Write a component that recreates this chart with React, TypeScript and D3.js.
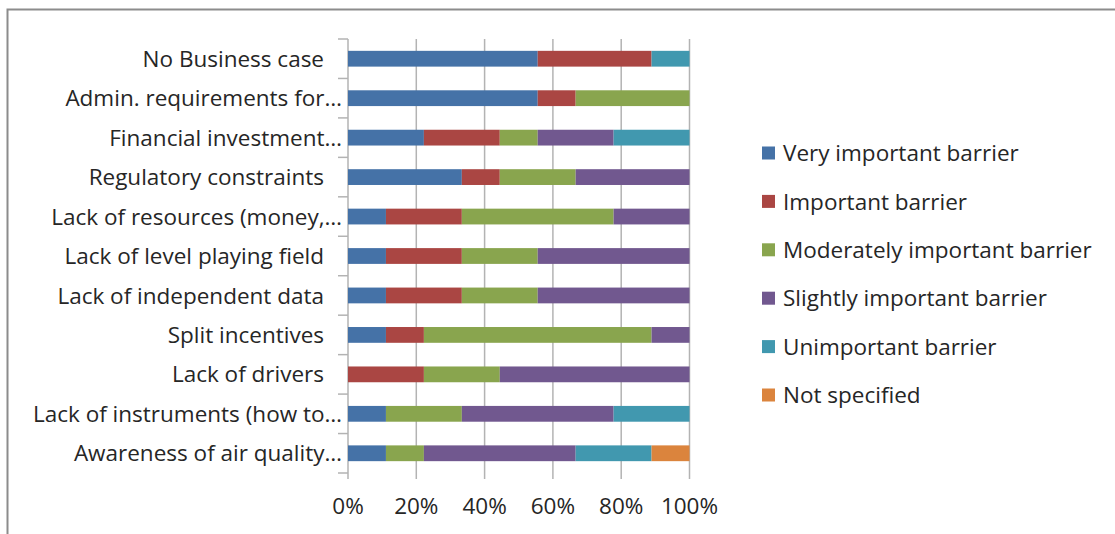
import React from "react";
import * as d3 from "d3";

// Survey categories, top to bottom
const categories = [
  "No Business case",
  "Admin. requirements for…",
  "Financial investment…",
  "Regulatory constraints",
  "Lack of resources (money,…",
  "Lack of level playing field",
  "Lack of independent data",
  "Split incentives",
  "Lack of drivers",
  "Lack of instruments (how to…",
  "Awareness of air quality…",
];

const seriesNames = [
  "Very important barrier",
  "Important barrier",
  "Moderately important barrier",
  "Slightly important barrier",
  "Unimportant barrier",
  "Not specified",
];

// Number of responses per category (9 respondents each)
const veryImportant = [5, 5, 2, 3, 1, 1, 1, 1, 0, 1, 1];
const important = [3, 1, 2, 1, 2, 2, 2, 1, 2, 0, 0];
const moderatelyImportant = [0, 3, 1, 2, 4, 2, 2, 6, 2, 2, 1];
const slightlyImportant = [0, 0, 2, 3, 2, 4, 4, 1, 5, 4, 4];
const unimportant = [1, 0, 2, 0, 0, 0, 0, 0, 0, 2, 2];
const notSpecified = [0, 0, 0, 0, 0, 0, 0, 0, 0, 0, 1];

const xTicks = [0, 0.2, 0.4, 0.6, 0.8, 1];

const colors = ["#4572A7", "#AA4643", "#89A54E", "#71588F", "#4198AF", "#DB843D"];

const FONT = "'Open Sans', Lato, sans-serif";
const TEXT = "#262626";

export default function App() {
  const W = 1115;
  const H = 534;
  const plot = { left: 348, right: 689.5, top: 39, bottom: 473 };

  const seriesValues = [
    veryImportant,
    important,
    moderatelyImportant,
    slightlyImportant,
    unimportant,
    notSpecified,
  ];

  const rows = categories.map((c, i) => {
    const row: Record<string, number | string> = { category: c };
    seriesNames.forEach((s, k) => (row[s] = seriesValues[k][i]));
    return row;
  });

  const stacked = d3
    .stack<Record<string, number | string>>()
    .keys(seriesNames)
    .value((d, key) => d[key] as number)
    .offset(d3.stackOffsetExpand)(rows);

  const x = d3.scaleLinear().domain([0, 1]).range([plot.left, plot.right]);
  const y = d3
    .scaleBand<string>()
    .domain(categories)
    .range([plot.top, plot.bottom])
    .paddingInner(0.6)
    .paddingOuter(0.3);

  const step = (plot.bottom - plot.top) / categories.length;
  const boundaries = d3.range(categories.length + 1).map((i) => plot.top + i * step);

  const gridColor = "#b3b3b3";
  const fs = 22.5;

  return (
    <svg
      width={W}
      height={H}
      style={{ position: "absolute", left: 0, top: 0, background: "#fff" }}
      fontFamily={FONT}
    >
      {/* outer frame, top and left edges */}
      <path d={`M7.5,${H} V9.5 H${W}`} fill="none" stroke="#8c8c8c" strokeWidth={2} />

      {/* vertical gridlines with short ticks below */}
      {xTicks.map((t) => (
        <line
          key={t}
          x1={x(t)}
          x2={x(t)}
          y1={plot.top}
          y2={plot.bottom + 6}
          stroke={gridColor}
          strokeWidth={1.5}
        />
      ))}

      {/* category axis ticks */}
      {boundaries.map((b, i) => (
        <line
          key={i}
          x1={plot.left - 10}
          x2={plot.left}
          y1={b}
          y2={b}
          stroke={gridColor}
          strokeWidth={1.5}
        />
      ))}

      {/* stacked bars */}
      {stacked.map((layer, k) => (
        <g key={layer.key} fill={colors[k]}>
          {layer.map((seg, i) => {
            const w = x(seg[1]) - x(seg[0]);
            if (w <= 0) return null;
            return (
              <rect
                key={i}
                x={x(seg[0])}
                y={y(categories[i])}
                width={w}
                height={y.bandwidth()}
              />
            );
          })}
        </g>
      ))}

      {/* category labels */}
      {categories.map((c) => (
        <text
          key={c}
          x={c.endsWith("…") ? 342 : 324}
          y={(y(c) as number) + y.bandwidth() / 2}
          dy="0.36em"
          textAnchor="end"
          fontSize={fs}
          fill={TEXT}
        >
          {c}
        </text>
      ))}

      {/* value axis labels */}
      {xTicks.map((t) => (
        <text
          key={t}
          x={x(t)}
          y={506}
          dy="0.36em"
          textAnchor="middle"
          fontSize={fs}
          fill={TEXT}
        >
          {d3.format(".0%")(t)}
        </text>
      ))}

      {/* legend */}
      {seriesNames.map((s, k) => {
        const cy = 153 + k * 48.4;
        return (
          <g key={s}>
            <rect x={762} y={cy - 6.5} width={13} height={13} fill={colors[k]} />
            <text x={783} y={cy} dy="0.36em" fontSize={fs} fill={TEXT}>
              {s}
            </text>
          </g>
        );
      })}
    </svg>
  );
}
